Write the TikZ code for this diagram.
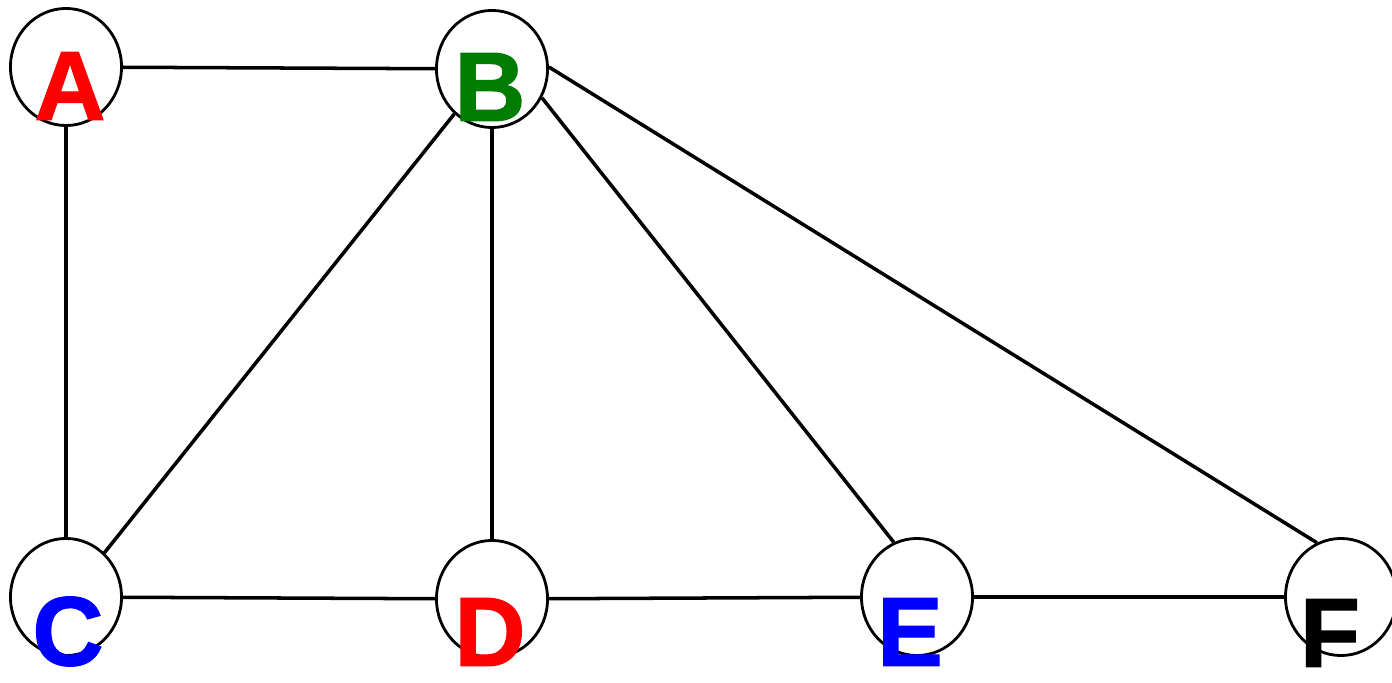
\documentclass[tikz,border=0pt]{standalone}
\usepackage{fontspec}
\setmainfont{Liberation Sans}
\newfontfamily\heavyfont[FakeBold=1.2]{Liberation Sans Bold}
\usepackage{xcolor}
\usetikzlibrary{shapes.geometric}
\usetikzlibrary{positioning}

\definecolor{vred}{RGB}{255,0,0}
\definecolor{vgreen}{RGB}{0,125,0}
\definecolor{vblue}{RGB}{0,0,255}

\begin{document}
\begin{tikzpicture}[%
x=0.01cm, y=-0.01cm,
vertex/.style={draw, ellipse, line width=0.8pt, minimum width=1.11cm, minimum height=1.17cm, inner sep=0pt},
letter/.style={font=\fontsize{28}{30}\heavyfont, inner sep=0pt, text depth=0pt},
edge/.style={line width=1pt}
]
\useasboundingbox (0,0) rectangle (1392,683);
% vertices
\node[vertex] (A) at (66,67) {};
\node[vertex] (B) at (492,69) {};
\node[vertex] (C) at (66,597) {};
\node[vertex] (D) at (492,599) {};
\node[vertex] (E) at (917,597) {};
\node[vertex] (F) at (1341,597) {};
% edges
\draw[edge] (A) -- (B);
\draw[edge] (A) -- (C);
\draw[edge] (B) -- (D);
\draw[edge] (B.230) -- (C.49);
\draw[edge] (B.-30) -- (E.113);
\draw[edge] (B.2) -- (F.114);
\draw[edge] (C) -- (D);
\draw[edge] (D) -- (E);
\draw[edge] (E) -- (F);
% letters sit low in the circles
\node[letter, text=vred] (lA) at (70,86) {A};
\node[letter, text=vgreen] (lB) at (490,87) {B};
\node[letter, text=vblue] (lC) at (68,631) {C};
\node[letter, text=vred] (lD) at (490,632) {D};
\node[letter, text=vblue] (lE) at (910,632) {E};
\node[letter, text=black] (lF) at (1330,633) {F};
\end{tikzpicture}
\end{document}
